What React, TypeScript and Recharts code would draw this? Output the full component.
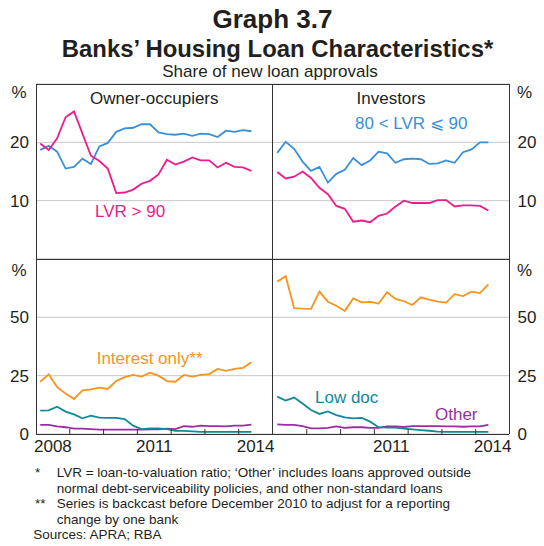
import React from 'react';
import { LineChart, Line, XAxis, YAxis, CartesianGrid } from 'recharts';

const quarterX = [
  2008.125, 2008.375, 2008.625, 2008.875,
  2009.125, 2009.375, 2009.625, 2009.875,
  2010.125, 2010.375, 2010.625, 2010.875,
  2011.125, 2011.375, 2011.625, 2011.875,
  2012.125, 2012.375, 2012.625, 2012.875,
  2013.125, 2013.375, 2013.625, 2013.875,
  2014.125, 2014.375,
];

// Owner-occupiers
const ooLvr8090 = [18.7, 19.4, 18.4, 15.5, 15.8, 17.2, 16.3, 19.3, 19.9, 21.8, 22.4, 22.5, 23.1, 23.1, 21.7, 21.4, 21.3, 21.5, 21.1, 21.5, 21.4, 20.9, 22.0, 21.8, 22.1, 21.9];
const ooLvr90 = [19.8, 18.7, 20.7, 24.3, 25.3, 21.5, 17.7, 16.8, 15.5, 11.3, 11.4, 11.9, 12.9, 13.4, 14.5, 17.0, 16.2, 16.7, 17.4, 16.9, 16.9, 15.7, 16.5, 15.8, 15.7, 15.1];
const ooInterestOnly = [22.4, 25.6, 20.1, 17.4, 15.0, 18.7, 19.1, 19.9, 19.3, 22.7, 24.4, 25.3, 24.6, 26.3, 25.0, 22.7, 22.4, 25.3, 24.6, 25.3, 25.7, 27.9, 27.1, 27.9, 28.3, 30.7];
const ooLowDoc = [10.0, 10.1, 11.7, 9.6, 8.4, 6.7, 7.9, 7.0, 6.9, 6.9, 6.4, 3.6, 2.1, 2.4, 2.4, 2.1, 1.4, 1.3, 1.1, 0.9, 0.9, 0.9, 0.9, 0.9, 0.9, 0.9];
const ooOther = [3.9, 3.9, 3.3, 2.9, 2.3, 2.3, 2.1, 1.9, 1.9, 1.9, 1.9, 1.9, 1.9, 2.0, 2.0, 2.3, 2.1, 3.4, 3.1, 3.6, 3.4, 3.4, 3.3, 3.6, 3.6, 4.0];

// Investors
const invLvr8090 = [18.2, 20.1, 18.9, 16.7, 15.1, 15.8, 13.1, 14.6, 15.3, 17.3, 16.1, 16.9, 18.4, 18.1, 16.5, 17.1, 17.2, 17.1, 16.3, 16.4, 16.9, 16.5, 18.3, 18.8, 20.0, 20.0];
const invLvr90 = [14.9, 13.8, 14.1, 15.0, 13.9, 12.2, 11.1, 9.1, 8.6, 6.4, 6.6, 6.3, 7.4, 7.8, 9.0, 10.0, 9.6, 9.6, 9.6, 10.1, 10.1, 9.0, 9.2, 9.2, 9.1, 8.3];
const invInterestOnly = [65.3, 67.6, 53.9, 53.7, 53.6, 61.0, 56.7, 55.0, 52.7, 58.1, 56.4, 56.6, 55.9, 60.7, 57.9, 56.9, 55.3, 58.6, 57.6, 56.7, 56.3, 59.9, 59.1, 61.0, 60.4, 64.1];
const invLowDoc = [16.0, 14.3, 15.6, 13.1, 10.3, 8.6, 9.7, 8.1, 7.1, 6.7, 6.9, 5.3, 2.9, 2.7, 2.7, 2.3, 2.0, 1.7, 1.4, 1.0, 0.9, 0.9, 0.9, 0.9, 0.9, 0.9];
const invOther = [4.1, 3.9, 3.9, 3.4, 2.4, 2.4, 2.6, 3.3, 2.6, 2.9, 2.9, 2.6, 2.6, 3.3, 3.3, 3.0, 3.4, 3.4, 3.4, 3.4, 3.3, 3.3, 3.1, 3.3, 3.3, 3.9];

const xTicks = [2008, 2009, 2010, 2011, 2012, 2013, 2014, 2015];
const xMarkYears = [2009, 2010, 2011, 2012, 2013, 2014];
const leftYearLabels = [2008, 2011, 2014];
const rightYearLabels = [2011, 2014];
const topTicks = [10, 20];
const bottomTicks = [0, 25, 50];

const ooData = quarterX.map((x, i) => ({
  x,
  lvr8090: ooLvr8090[i],
  lvr90: ooLvr90[i],
  io: ooInterestOnly[i],
  lowdoc: ooLowDoc[i],
  other: ooOther[i],
}));
const invData = quarterX.map((x, i) => ({
  x,
  lvr8090: invLvr8090[i],
  lvr90: invLvr90[i],
  io: invInterestOnly[i],
  lowdoc: invLowDoc[i],
  other: invOther[i],
}));

const FONT = '"Liberation Sans", Arial, Helvetica, sans-serif';
const TEXT = '#231f20';
const BLUE = '#3b8fd6';
const PINK = '#ec1c8c';
const ORANGE = '#f7941d';
const TEAL = '#11899b';
const PURPLE = '#9a2d9f';
const GRID = '#c8c8c8';
const FRAME = '#333333';

const X0 = 36;
const XM = 272.5;
const X1 = 509;
const Y0 = 84;
const YM = 259;
const Y1 = 434;
const PW = XM - X0; // 236.5
const PH = YM - Y0; // 175
const HALF_YEAR = PW / 7 / 2;
const SW = 1.8;

const makeXTick = (labels: number[]) => (props: any) => {
  const { x, y, payload } = props;
  const v = payload.value;
  return (
    <g>
      {xMarkYears.includes(v) && (
        <line x1={x} y1={y} x2={x} y2={y - 5} stroke={FRAME} strokeWidth={1} />
      )}
      {labels.includes(v) && (
        <text
          x={x + HALF_YEAR}
          y={y + 18}
          textAnchor="middle"
          fontSize={17}
          fontFamily={FONT}
          fill={TEXT}
        >
          {v}
        </text>
      )}
    </g>
  );
};

const yTickStyle = { fontSize: 17, fill: TEXT, fontFamily: FONT };

function Panel({
  data,
  side,
  bottom,
  left,
  top,
}: {
  data: any[];
  side: 'left' | 'right';
  bottom: boolean;
  left: number;
  top: number;
}) {
  const width = PW + (side === 'left' ? X0 : 35);
  const height = PH + (bottom ? 30 : 0);
  return (
    <div style={{ position: 'absolute', left, top }}>
      <LineChart
        width={width}
        height={height}
        data={data}
        margin={{ top: 0, right: 0, bottom: 0, left: 0 }}
      >
        <CartesianGrid vertical={false} stroke={GRID} strokeWidth={1} />
        <XAxis
          dataKey="x"
          type="number"
          domain={[2008, 2015]}
          ticks={xTicks}
          interval={0}
          hide={!bottom}
          height={bottom ? 30 : 0}
          axisLine={false}
          tickLine={false}
          tickSize={0}
          tickMargin={0}
          tick={makeXTick(side === 'left' ? leftYearLabels : rightYearLabels)}
          allowDataOverflow
        />
        <YAxis
          orientation={side}
          width={side === 'left' ? X0 : 35}
          domain={bottom ? [0, 75] : [0, 30]}
          ticks={bottom ? bottomTicks : topTicks}
          interval={0}
          axisLine={false}
          tickLine={false}
          tickSize={0}
          tickMargin={side === 'left' ? 7 : 8}
          tick={yTickStyle}
          allowDataOverflow
        />
        {bottom ? (
          <>
            <Line dataKey="io" stroke={ORANGE} strokeWidth={SW} dot={false} isAnimationActive={false} type="linear" />
            <Line dataKey="other" stroke={PURPLE} strokeWidth={SW} dot={false} isAnimationActive={false} type="linear" />
            <Line dataKey="lowdoc" stroke={TEAL} strokeWidth={SW} dot={false} isAnimationActive={false} type="linear" />
          </>
        ) : (
          <>
            <Line dataKey="lvr8090" stroke={BLUE} strokeWidth={SW} dot={false} isAnimationActive={false} type="linear" />
            <Line dataKey="lvr90" stroke={PINK} strokeWidth={SW} dot={false} isAnimationActive={false} type="linear" />
          </>
        )}
      </LineChart>
    </div>
  );
}

export default function App() {
  const t = (
    x: number,
    y: number,
    s: string,
    opts: { size?: number; anchor?: string; weight?: string; fill?: string } = {}
  ) => (
    <text
      x={x}
      y={y}
      fontSize={opts.size ?? 17}
      textAnchor={(opts.anchor as any) ?? 'start'}
      fontWeight={opts.weight ?? 'normal'}
      fill={opts.fill ?? TEXT}
      fontFamily={FONT}
    >
      {s}
    </text>
  );
  const FN = 13.5;
  return (
    <div
      style={{
        position: 'absolute',
        left: 0,
        top: 0,
        width: 544,
        height: 546,
        background: '#fff',
        fontFamily: FONT,
      }}
    >
      <style>{`svg.recharts-surface { overflow: visible; }`}</style>
      <Panel data={ooData} side="left" bottom={false} left={0} top={Y0} />
      <Panel data={invData} side="right" bottom={false} left={XM} top={Y0} />
      <Panel data={ooData} side="left" bottom={true} left={0} top={YM} />
      <Panel data={invData} side="right" bottom={true} left={XM} top={YM} />
      <svg
        width={544}
        height={546}
        style={{ position: 'absolute', left: 0, top: 0, pointerEvents: 'none' }}
      >
        <g stroke={FRAME} strokeWidth={1} shapeRendering="crispEdges" fill="none">
          <line x1={X0} y1={Y0 + 0.5} x2={X1} y2={Y0 + 0.5} />
          <line x1={X0} y1={YM + 0.5} x2={X1} y2={YM + 0.5} />
          <line x1={X0} y1={Y1 + 0.5} x2={X1} y2={Y1 + 0.5} />
          <line x1={X0 + 0.5} y1={Y0} x2={X0 + 0.5} y2={Y1} />
          <line x1={XM} y1={Y0} x2={XM} y2={Y1} />
          <line x1={X1 + 0.5} y1={Y0} x2={X1 + 0.5} y2={Y1} />
        </g>
        {t(272.5, 28, 'Graph 3.7', { size: 26, anchor: 'middle', weight: 'bold' })}
        {t(277.5, 56.5, 'Banks’ Housing Loan Characteristics*', { size: 23.9, anchor: 'middle', weight: 'bold' })}
        {t(270, 77, 'Share of new loan approvals', { anchor: 'middle' })}
        {t(19, 98, '%', { anchor: 'middle' })}
        {t(19, 275.5, '%', { anchor: 'middle' })}
        {t(517, 98, '%')}
        {t(517, 275.5, '%')}
        {t(154.3, 104, 'Owner-occupiers', { anchor: 'middle' })}
        {t(391, 104, 'Investors', { anchor: 'middle' })}
        {t(355, 129, '80 < LVR ⩽ 90', { fill: BLUE })}
        {t(95, 217, 'LVR > 90', { fill: PINK })}
        {t(96.7, 364, 'Interest only**', { fill: ORANGE })}
        {t(315, 403, 'Low doc', { fill: TEAL })}
        {t(435, 420, 'Other', { fill: PURPLE })}
        {t(35, 477, '*', { size: FN })}
        {t(56.7, 477, 'LVR = loan-to-valuation ratio; ‘Other’ includes loans approved outside', { size: FN })}
        {t(56.7, 492.5, 'normal debt-serviceability policies, and other non-standard loans', { size: FN })}
        {t(35, 508, '**', { size: FN })}
        {t(56.7, 508, 'Series is backcast before December 2010 to adjust for a reporting', { size: FN })}
        {t(56.7, 523.5, 'change by one bank', { size: FN })}
        {t(33.3, 539, 'Sources: APRA; RBA', { size: FN })}
      </svg>
    </div>
  );
}
